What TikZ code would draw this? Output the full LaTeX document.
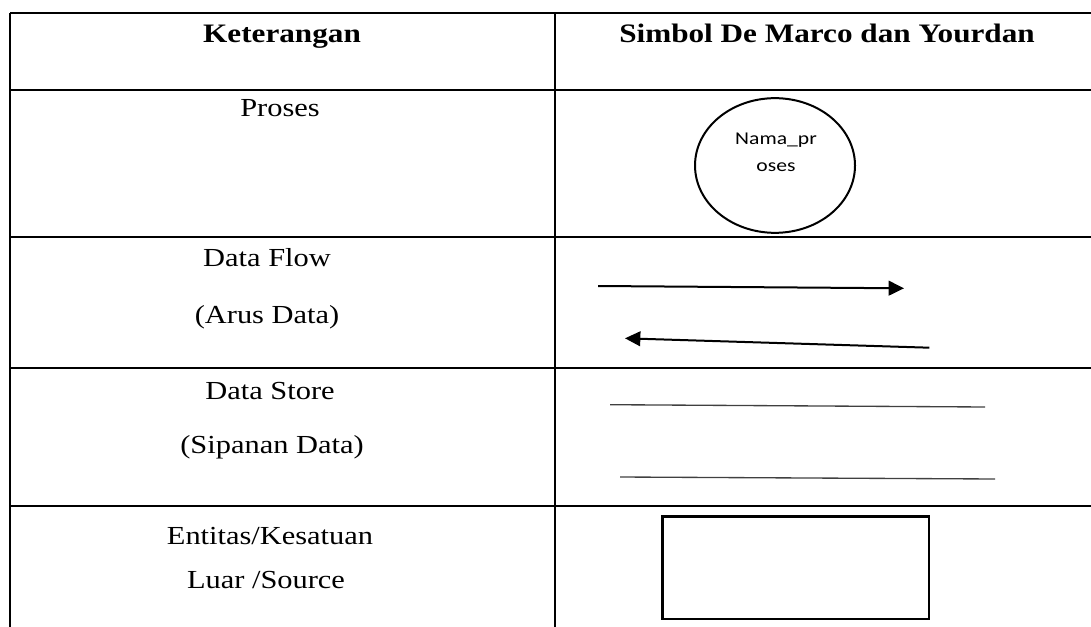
\documentclass[tikz,border=0pt]{standalone}
\usepackage{fontspec}
\setmainfont{Liberation Serif}[FakeStretch=1.17]
\newfontfamily\calfont{Carlito}[FakeStretch=1.2]
\usetikzlibrary{arrows.meta,shapes.geometric}
\begin{document}
\begin{tikzpicture}[x=0.75pt,y=-0.75pt,
  grid/.style={line width=1.4pt,black},
  hdr/.style={anchor=base,inner sep=0pt,font=\fontsize{20pt}{24pt}\selectfont\bfseries},
  lbl/.style={anchor=base,inner sep=0pt,font=\fontsize{19.5pt}{23pt}\selectfont},
  flow/.style={line width=1.5pt,-{Triangle[length=11.5pt,width=11pt]}},
  store/.style={line width=1pt,black!75},
  proc/.style={ellipse,draw,line width=1.5pt,minimum width=120pt,minimum height=101pt,inner sep=0pt},
  ent/.style={draw,line width=2pt,minimum width=200pt,minimum height=77pt,inner sep=0pt}]
\useasboundingbox (0,0) rectangle (1091,627);
% table grid
\coordinate (tl) at (10,13);
\coordinate (tr) at (1091,13);
\coordinate (h1l) at (10,90);
\coordinate (h1r) at (1091,90);
\coordinate (h2l) at (10,237);
\coordinate (h2r) at (1091,237);
\coordinate (h3l) at (10,368);
\coordinate (h3r) at (1091,368);
\coordinate (h4l) at (10,506);
\coordinate (h4r) at (1091,506);
\coordinate (bl) at (10,627);
\coordinate (mt) at (555,13);
\coordinate (mb) at (555,627);
\draw[grid] (tl) -- (tr);
\draw[grid] (h1l) -- (h1r);
\draw[grid] (h2l) -- (h2r);
\draw[grid] (h3l) -- (h3r);
\draw[grid] (h4l) -- (h4r);
\draw[grid] (tl) -- (bl);
\draw[grid] (mt) -- (mb);
% header
\node[hdr] (hk) at (282,43) {Keterangan};
\node[hdr] (hs) at (827,43) {Simbol De Marco dan Yourdan};
% left column
\node[lbl] (proses) at (280,117) {Proses};
\node[lbl] (df1) at (267,267) {Data Flow};
\node[lbl] (df2) at (267,323) {(Arus Data)};
\node[lbl] (ds1) at (270,399) {Data Store};
\node[lbl] (ds2) at (272,453) {(Sipanan Data)};
\node[lbl] (en1) at (270,544) {Entitas/Kesatuan};
\node[lbl] (en2) at (266,588) {Luar /Source};
% process symbol
\node[proc] (proc) at (775,165.5) {};
\node[anchor=base,inner sep=0pt,font=\calfont\fontsize{13.5pt}{16pt}\selectfont] (pn1) at (776,145) {Nama\_pr};
\node[anchor=base,inner sep=0pt,font=\calfont\fontsize{13.5pt}{16pt}\selectfont] (pn2) at (776,171.7) {oses};
% data flow
\coordinate (a1s) at (598,286);
\coordinate (a1e) at (904,288.3);
\coordinate (a2s) at (929.3,347.7);
\coordinate (a2e) at (625,338.3);
\draw[flow] (a1s) -- (a1e);
\draw[flow] (a2s) -- (a2e);
% data store
\coordinate (s1s) at (610,404.7);
\coordinate (s1e) at (985,407);
\coordinate (s2s) at (620,477);
\coordinate (s2e) at (995,479);
\draw[store] (s1s) -- (s1e);
\draw[store] (s2s) -- (s2e);
% entity
\node[ent] (entity) at (795.5,567.7) {};
\end{tikzpicture}
\end{document}
